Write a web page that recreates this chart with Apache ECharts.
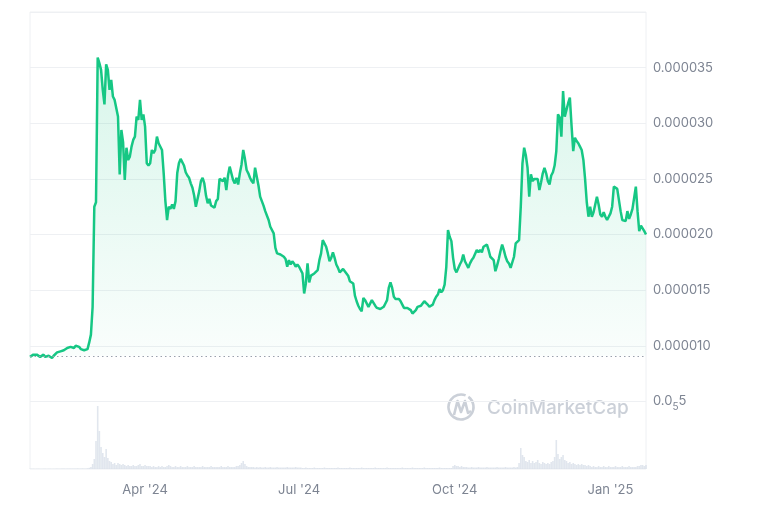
<!DOCTYPE html>
<html><head><meta charset="utf-8">
<script src="https://cdn.jsdelivr.net/npm/echarts@6/dist/echarts.min.js"></script>
<style>html,body{margin:0;padding:0;background:#fff}#c{width:768px;height:512px}</style>
</head><body><div id="c"></div>
<script>
// First day of the daily series
const startDate = [2024, 0, 24];
// Daily price in millionths of a dollar (1 = 0.000001)
const priceMicro = [
9.0,9.1,9.2,9.1,9.2,9.1,9.0,9.1,9.2,9.0,
9.1,9.1,9.0,8.9,9.1,9.2,9.4,9.5,9.5,9.4,
9.6,9.7,9.8,9.9,9.9,10.0,9.8,10.0,10.1,9.9,
9.7,9.6,9.6,9.7,9.7,10.3,11.0,13.5,22.5,22.9,
35.9,35.4,34.8,33.0,31.7,35.3,34.8,33.0,33.9,32.4,
32.1,32.2,30.6,25.4,29.4,28.3,24.9,27.8,26.7,27.0,
27.9,28.5,28.8,30.6,30.3,32.1,30.3,30.8,29.7,26.4,
26.2,26.4,27.6,27.3,27.6,28.8,28.2,28.1,27.6,25.5,
23.0,21.3,22.5,22.3,22.7,22.3,23.0,25.5,26.4,26.8,
26.9,26.2,25.6,25.3,25.1,24.6,24.2,23.5,22.5,22.6,
23.9,24.8,25.1,24.6,23.5,22.8,23.2,22.6,22.5,22.4,
23.0,23.2,25.0,24.9,24.8,25.1,24.0,25.3,26.1,26.0,
24.9,24.6,25.1,24.5,25.5,26.3,27.6,26.8,25.8,25.5,
25.1,24.8,24.6,26.0,25.2,24.4,23.4,23.3,22.6,22.1,
22.2,21.3,20.7,20.8,20.1,18.8,18.3,18.2,18.2,18.1,
18.0,17.8,17.1,17.7,17.3,17.6,17.4,17.1,17.3,17.1,
17.0,16.5,14.7,15.6,17.4,15.7,16.3,16.4,16.5,16.6,
16.8,17.7,18.3,19.5,19.4,18.9,18.3,17.6,17.9,18.4,
17.9,17.3,17.0,16.6,16.7,16.9,16.7,16.6,16.3,15.8,
15.7,15.6,14.5,14.0,13.6,13.3,13.1,14.3,14.1,14.0,
13.5,13.6,14.1,14.0,13.6,13.4,13.3,13.3,13.4,13.5,
13.8,14.1,15.2,15.7,15.2,14.4,14.2,14.1,14.2,14.0,
13.7,13.4,13.5,13.4,13.3,13.2,12.9,13.0,13.2,13.5,
13.5,13.6,13.8,14.0,14.1,13.7,13.5,13.4,13.7,14.1,
14.4,14.6,15.1,14.8,15.0,15.5,17.1,20.4,19.8,19.4,
17.9,16.9,16.6,16.5,17.3,17.6,18.2,17.6,17.3,17.0,
17.4,17.7,17.9,17.8,18.6,18.4,18.6,18.4,18.9,19.0,
19.1,18.6,18.0,17.9,17.7,16.7,17.2,17.8,18.5,19.1,
18.6,18.0,17.6,17.4,17.0,17.0,18.0,19.2,19.2,19.5,
22.5,26.4,27.8,27.1,26.0,23.4,25.4,24.8,25.0,24.9,
25.0,24.0,24.7,25.5,26.0,25.5,24.8,24.5,25.3,25.6,
26.2,27.5,30.8,30.5,28.8,32.9,30.6,31.2,31.8,32.3,
29.8,27.5,28.7,28.4,28.2,27.9,27.6,26.7,25.0,22.9,
21.6,22.5,21.6,22.0,22.7,23.4,22.7,21.8,21.6,22.0,
21.6,21.3,21.2,21.9,22.5,24.3,24.2,24.1,24.0,22.1,
21.3,21.3,21.2,22.1,21.4,21.8,22.3,22.4,24.3,22.1,
20.3,20.8,20.9,20.3,20.0
];
// Daily trading volume, relative units
const volumeRel = [
0.3,0.3,0.4,0.3,0.3,0.4,0.3,0.3,0.3,0.4,
0.3,0.3,0.4,0.3,0.3,0.4,0.5,0.4,0.4,0.5,
0.5,0.4,0.5,0.6,0.5,0.5,0.6,0.5,0.6,0.5,
0.5,0.6,0.5,0.6,0.8,1.2,
2,5,10,28,63,38,22,16,12,20,11,8,7,5,6,4,6,5,4,5,4,
3,4,3,3,4,3,3,4,5,3,3,4,3,3,
3,2,3,2,2,3,2,3,2,2,3,4,3,2,2,3,2,2,3,2,
2,2,3,2,2,2,3,2,2,2,2,3,2,2,2,2,3,2,2,2,
2,2,3,2,2,2,3,2,2,2,
2,3,3,4,6,8,5,3,2,2,
2,2,1.5,2,1.5,2,1.5,1.5,2,1.5,1.5,2,1.5,1.5,1.5,2,1.5,1.5,1.5,1.5,
1.5,2,1.5,1.5,1.5,1.5,2,1.5,1.5,1.5,
1,1,1.5,1,1,1,1,1.5,1,1,1,1,1,1.5,1,1,1,1,1,1,
1,1.5,1,1,1,1,1,1,1.5,1,1,1,1,1,1,1.5,1,1,1,1,
1,1,1,1.5,1,1,1,1,1,1,1.5,1,1,1,1,1,1,1,1,1.5,
1,1,1,1,1,1.5,1,1,1,1,1,1,1.5,1,1,1,1,1,1,1,
1,1.5,1,1,1,1,1,1,1,
3,4,3,3,2,3,2,2,2,
1.5,1.5,2,1.5,1.5,1.5,2,1.5,1.5,1.5,1.5,2,1.5,1.5,1.5,1.5,1.5,2,1.5,1.5,
1.5,1.5,2,1.5,1.5,1.5,1.5,2,1.5,2,
6,21,14,12,8,7,9,6,8,6,7,9,6,5,7,6,5,6,5,7,
8,12,29,15,10,12,14,9,8,6,7,5,6,5,4,5,4,5,4,4,3,4,
3,2,3,2,2,3,2,2,3,2,2,3,2,2,2,3,2,2,2,3,
2,2,2,3,2,2,2,2,3,3,4,4,3,4
];
const baselineMicro = 9.1;              // opening price, dotted reference line
const xLabelDates = ['2024-04-01', '2024-07-01', '2024-10-01', '2025-01-01'];
const monthNames = ['Jan','Feb','Mar','Apr','May','Jun','Jul','Aug','Sep','Oct','Nov','Dec'];

const dates = priceMicro.map((_, i) => new Date(startDate[0], startDate[1], startDate[2] + i).getTime());
const priceData = priceMicro.map((v, i) => [dates[i], v]);
const volData = volumeRel.slice(0, dates.length).map((v, i) => [dates[i], v]);
const xMin = dates[0], xMax = dates[dates.length - 1];
const xLabelValues = xLabelDates.map(s => { const p = s.split('-').map(Number); return new Date(p[0], p[1] - 1, p[2]).getTime(); });

const labelColor = '#7d8492';
const gridColor = '#eef0f3';

const chart = echarts.init(document.getElementById('c'), null, { renderer: 'canvas' });
chart.setOption({
  animation: false,
  backgroundColor: '#fff',
  grid: [
    { left: 30, right: 122, top: 12, bottom: 55, show: false },
    { left: 30, right: 122, top: 12, bottom: 43, show: true, borderColor: gridColor, borderWidth: 1, backgroundColor: 'transparent' }
  ],
  xAxis: [
    { gridIndex: 0, type: 'value', min: xMin, max: xMax, show: false, scale: true },
    { gridIndex: 1, type: 'value', min: xMin, max: xMax, scale: true,
      axisLine: { show: false }, axisTick: { show: false }, splitLine: { show: false },
      axisLabel: { customValues: xLabelValues, color: labelColor, fontSize: 13, fontFamily: 'Inter', margin: 15,
        hideOverlap: false,
        formatter: v => { const d = new Date(v); return monthNames[d.getMonth()] + " '" + String(d.getFullYear()).slice(2); } } }
  ],
  yAxis: [
    { gridIndex: 0, type: 'value', position: 'right', min: 0, max: 40, interval: 5,
      axisLine: { show: false }, axisTick: { show: false },
      splitLine: { lineStyle: { color: ['rgba(0,0,0,0)', gridColor, gridColor, gridColor, gridColor, gridColor, gridColor, gridColor, gridColor], width: 1 } },
      axisLabel: { color: labelColor, fontSize: 13, fontFamily: 'Inter', margin: 7,
        formatter: v => {
          if (v === 0 || v === 40) return '';
          if (v === 5) return '{n|0.0}{s|5}{n|5}';
          return (v / 1e6).toFixed(6);
        },
        rich: {
          n: { fontSize: 13, fontFamily: 'Inter', color: labelColor, lineHeight: 22, verticalAlign: 'middle' },
          s: { fontSize: 10, fontFamily: 'Inter', color: labelColor, lineHeight: 10, verticalAlign: 'bottom' }
        } } },
    { gridIndex: 1, type: 'value', min: 0, max: 457, show: false }
  ],
  graphic: [
    { type: 'arc', z: 0, shape: { cx: 461, cy: 407, r: 12.5, startAngle: -Math.PI * 0.3, endAngle: Math.PI * 1.62 },
      style: { fill: 'none', stroke: '#cbd0d8', lineWidth: 2.6 } },
    { type: 'polyline', z: 0, shape: { points: [[454, 415], [457.5, 401], [461, 412], [465, 401], [468, 413], [471, 411]] },
      style: { fill: 'none', stroke: '#cbd0d8', lineWidth: 2.6, lineJoin: 'round' } },
    { type: 'text', z: 0, x: 487, y: 408,
      style: { text: 'CoinMarketCap', font: '500 19px Inter', fill: '#cbd0d8', verticalAlign: 'middle' } }
  ],
  series: [
    { type: 'bar', xAxisIndex: 1, yAxisIndex: 1, data: volData, barWidth: 1.6, z: 1,
      itemStyle: { color: 'rgba(205,213,226,0.6)' }, silent: true },
    { type: 'line', xAxisIndex: 0, yAxisIndex: 0, data: priceData, showSymbol: false, z: 3,
      lineStyle: { color: '#16c784', width: 2.5 },
      areaStyle: { origin: baselineMicro,
        color: new echarts.graphic.LinearGradient(0, 0, 0, 1, [
          { offset: 0, color: 'rgba(22,199,132,0.24)' },
          { offset: 1, color: 'rgba(22,199,132,0.03)' }
        ]) },
      markLine: { silent: true, symbol: 'none', label: { show: false },
        lineStyle: { color: '#9aa1ad', type: [1.5, 3], width: 1 },
        data: [{ yAxis: baselineMicro }] } }
  ]
});
</script></body></html>
